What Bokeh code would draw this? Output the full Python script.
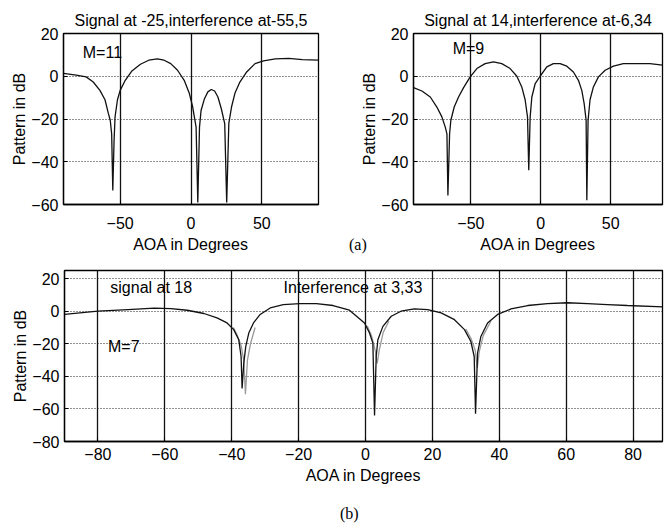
from bokeh.plotting import figure
from bokeh.layouts import column, row
from bokeh.models import Range1d, FixedTicker, Label, Div
from bokeh.embed import file_html
from bokeh.resources import INLINE

# ---------------- data ----------------
# (a) left: M=11, signal at -25, interference at -55, 5
tl_deg = [-90, -81, -74, -69, -64.3, -60.7, -58.3, -57, -56, -55.2,
          -54.3, -53.6, -51.9, -50, -46.4, -41.7, -35.7, -29.8, -23.8, -19,
          -14.3, -9.5, -4.8, -1.2, 1.2, 3.6, 4.8, 6, 7.1, 9.5,
          11.9, 14.3, 16.7, 19, 21.4, 23.8, 25.2, 26.7, 28.6, 31,
          34.5, 39.3, 45.2, 51.2, 59.5, 69, 78.6, 90]
tl_db = [1.3, 0.5, -0.3, -2.7, -6.6, -11, -17.5, -20.6, -27, -53.4,
         -30, -19, -11, -6.6, -1.9, 2.5, 5.6, 7.5, 8.1, 7.5,
         5.9, 2.8, -1.9, -8, -14.4, -23.8, -59, -23.8, -16, -10.5,
         -7.3, -6.2, -6.9, -9.7, -15.2, -22.2, -59, -22, -14.4, -8,
         -2.7, 2, 5.9, 7.2, 8.1, 8.4, 7.8, 7.5]

# (a) right: M=9, signal at 14, interference at -6, 34
tr_deg = [-91, -85, -79, -74.3, -70.7, -68.3, -67.1, -66.4, -65.2, -64.3,
          -61.9, -58.8, -55.2, -50.5, -45.7, -39.8, -33.8, -27.9, -21.9, -17.1,
          -13.6, -11.2, -9.5, -8.6, -7.6, -6.4, -4, -0.5, 4.3, 9,
          13.8, 18.6, 23.3, 26.9, 29.3, 31, 32.4, 32.9, 33.8, 35.2,
          37.6, 41.2, 46, 51.9, 59, 68.6, 78, 87]
tr_db = [-5.3, -6.9, -9.7, -14.4, -19, -23.8, -27, -55.8, -27, -20.6,
         -14.4, -9.7, -5.3, -0.3, 3.6, 5.9, 6.7, 5.9, 3.6, 0,
         -5, -11, -19, -44, -19, -9.7, -3.4, 0, 4.4, 5.9,
         5.9, 4.7, 2, -1.9, -6.6, -12.8, -20.6, -58, -20.6, -11,
         -5, -0.3, 2.8, 4.7, 5.9, 5.9, 5.9, 5.2]

# (b): M=7, signal at 18, interference at 3, 33
b_deg = [-90, -80, -71, -63.2, -58.2, -53.3, -48.3, -44.4, -41.4, -39.4,
         -37.9, -37.2, -36.9, -36.4, -35.8, -34.9, -33.5, -31.5, -28.5, -24.6,
         -19.6, -14.7, -9.7, -4.8, -3.3, -0.3, 1.2, 2.2, 2.7, 3.2,
         3.7, 5.2, 7.7, 10.6, 14.6, 18.6, 22.6, 26.6, 29.6, 31.5,
         32.5, 32.9, 33.5, 34.5, 36.5, 39.5, 43.5, 48.5, 54.4, 60.4,
         66.4, 72.3, 78.3, 89]
b_db = [-2, 0, 1, 1.9, 1.6, 0.6, -1.4, -4.1, -7.2, -11.3,
        -17.5, -27.8, -47.4, -32, -21.6, -13.4, -7.2, -2, 2, 4.1,
        4.7, 4.7, 3.5, 0.6, -2, -7.2, -13.4, -19.6, -64, -27.8,
        -17.5, -9.3, -3.1, 0, 1.4, 1, -1, -5.2, -11.3, -18.6,
        -27.8, -62.9, -25.8, -15.5, -7.2, -2, 1.4, 3.5, 4.7, 5.2,
        4.7, 4.1, 3.5, 2.7]

# (b) second (grey) trace, visible only around the nulls
g1_deg = [-39.5, -38.3, -37.2, -36.4, -35.9, -35.3, -34.4, -33.0]
g1_db = [-10, -15, -21, -30, -51, -30, -20, -10]
g2_deg = [0.5, 1.8, 2.9, 3.5, 4.1, 5.3, 7]
g2_db = [-9, -15, -24, -32, -24, -13, -6]
g3_deg = [30, 31.6, 32.8, 33.4, 34.0, 35.2, 37.5]
g3_db = [-11, -17, -24, -35, -25, -15, -6]

top_xticks = [-50, 0, 50]
top_yticks = [-60, -40, -20, 0, 20]
bot_xticks = [-80, -60, -40, -20, 0, 20, 40, 60, 80]
bot_yticks = [-80, -60, -40, -20, 0, 20]

title_a1 = "Signal at -25,interference at-55,5"
title_a2 = "Signal at 14,interference at-6,34"
caption_a = "(a)"
caption_b = "(b)"

FONT = "Liberation Sans"
SERIF = "Liberation Serif"


def style(p, xt, yt, x_std, x_lab_std):
    p.background_fill_color = "white"
    p.border_fill_color = "white"
    p.outline_line_color = "black"
    p.outline_line_width = 1.3
    p.xaxis.ticker = FixedTicker(ticks=xt)
    p.yaxis.ticker = FixedTicker(ticks=yt)
    for ax in (p.xaxis[0], p.yaxis[0]):
        ax.axis_line_color = "black"
        ax.axis_line_width = 1.3
        ax.major_tick_in = 4
        ax.major_tick_out = 0
        ax.major_tick_line_color = "black"
        ax.minor_tick_line_color = None
        ax.major_label_text_font = FONT
        ax.major_label_text_font_size = "16px"
        ax.major_label_text_color = "black"
        ax.axis_label_text_font = FONT
        ax.axis_label_text_font_size = "16px"
        ax.axis_label_text_font_style = "normal"
        ax.axis_label_text_color = "black"
    p.xaxis.axis_label = "AOA in Degrees"
    p.yaxis.axis_label = "Pattern in dB"
    p.xaxis.major_label_standoff = x_std
    p.xaxis.axis_label_standoff = x_lab_std
    p.yaxis.major_label_standoff = 5
    p.yaxis.axis_label_standoff = 0
    p.xgrid.ticker = FixedTicker(ticks=xt)
    p.ygrid.ticker = FixedTicker(ticks=yt)
    p.xgrid.grid_line_color = "#111111"
    p.xgrid.grid_line_width = 1.3
    p.ygrid.grid_line_color = "#222222"
    p.ygrid.grid_line_width = 1.2
    p.ygrid.grid_line_dash = "1 2"
    p.title.text_font = FONT
    p.title.text_font_size = "16px"
    p.title.text_font_style = "normal"
    p.title.text_color = "black"
    p.title.align = "center"
    p.title.vertical_align = "middle"
    p.title.text_line_height = 1.6
    p.title.standoff = 8


def txt(p, x, y, s):
    p.add_layout(Label(x=x, y=y, text=s, text_font=FONT, text_font_size="16px",
                       text_align="left", text_baseline="middle", text_color="black"))


def caption(s, left, top):
    return Div(text=s, width=30, height=20,
               styles={"position": "absolute", "left": f"{left}px", "top": f"{top}px",
                       "font-family": SERIF, "font-size": "16px", "color": "black",
                       "line-height": "18px"})


# ---------------- (a) left ----------------
p1 = figure(width=330, height=255, x_range=Range1d(-90, 90), y_range=Range1d(-60, 20),
            output_backend="svg", toolbar_location=None, title=title_a1,
            min_border_left=63, min_border_right=12, min_border_top=33, min_border_bottom=51)
style(p1, top_xticks, top_yticks, 12, 4)
p1.line(tl_deg, tl_db, line_color="#111111", line_width=1.3)
txt(p1, -76.4, 11.1, "M=11")

# ---------------- (a) right ----------------
p2 = figure(width=335, height=255, x_range=Range1d(-91, 87), y_range=Range1d(-60, 20),
            output_backend="svg", toolbar_location=None, title=title_a2,
            min_border_left=83, min_border_right=3, min_border_top=33, min_border_bottom=51)
style(p2, top_xticks, top_yticks, 12, 4)
p2.line(tr_deg, tr_db, line_color="#111111", line_width=1.3)
txt(p2, -63, 13, "M=9")

# ---------------- (b) ----------------
p3 = figure(width=665, height=276, x_range=Range1d(-90, 88.8), y_range=Range1d(-80, 25),
            output_backend="svg", toolbar_location=None,
            min_border_left=64, min_border_right=3, min_border_top=15, min_border_bottom=90)
style(p3, bot_xticks, bot_yticks, 6, 4)
for gx, gy in ((g1_deg, g1_db), (g2_deg, g2_db), (g3_deg, g3_db)):
    p3.line(gx, gy, line_color="#9a9a9a", line_width=1.3)
p3.line(b_deg, b_db, line_color="#111111", line_width=1.3)
txt(p3, -76.3, 14.5, "signal at 18")
txt(p3, -24.5, 14.5, "Interference at 3,33")
txt(p3, -77, -21.7, "M=7")

layout = column(row(p1, p2, spacing=0), p3,
                caption(caption_a, 344, 231), caption(caption_b, 335, 500),
                spacing=0)
open("out.html", "w").write(file_html(layout, INLINE))
